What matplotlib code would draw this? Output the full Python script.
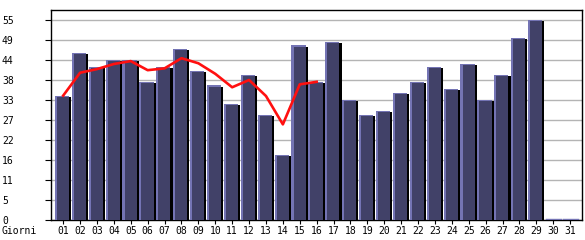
import matplotlib
matplotlib.use("Agg")
import matplotlib.pyplot as plt
import numpy as np

# daily visits, one bar per day
days = ["01", "02", "03", "04", "05", "06", "07", "08", "09", "10",
        "11", "12", "13", "14", "15", "16", "17", "18", "19", "20",
        "21", "22", "23", "24", "25", "26", "27", "28", "29", "30", "31"]
visits = [34, 46, 42, 44, 44, 38, 42, 47, 41, 37,
          32, 40, 29, 18, 48, 38, 49, 33, 29, 30,
          35, 38, 42, 36, 43, 33, 40, 50, 55, 0, 0]
# red trend line (only the first 16 days)
trend = [34.2, 40.5, 41.5, 42.9, 43.7, 41.2, 41.7, 44.5, 43.1, 40.2,
         36.5, 38.5, 34.1, 26.3, 37.3, 38.0]

ymax = max(visits)
yticks = [ymax * i / 10 for i in range(11)]
ytick_labels = [str(int(v)) for v in yticks]

fig = plt.figure(figsize=(5.85, 2.4), dpi=100)
ax = fig.add_axes([51 / 585, 20 / 240, 531 / 585, 210 / 240])

x = np.arange(1, len(days) + 1)
# shadow, light edge, face
shadow = [max(v - 0.3, 0) for v in visits]
ax.bar(x + 0.085, shadow, width=0.77, color="black", zorder=2)
ax.bar(x - 0.07, visits, width=0.84, color="#7474b4", zorder=3)
face = [max(v - 0.3, 0) for v in visits]
ax.bar(x - 0.01, face, width=0.72, color="#414168", zorder=4)
# empty days drawn as a thin line
for xi, v in zip(x, visits):
    if v == 0:
        ax.plot([xi - 0.45, xi + 0.45], [0.2, 0.2], color="#7474b4", lw=1, zorder=4)

ax.plot(x[:len(trend)], trend, color="#ff1010", lw=1.9, zorder=6)

ax.set_xlim(0.28, 31.7)
ax.set_ylim(0, ymax * 1.05)
ax.set_yticks(yticks)
ax.set_yticklabels(ytick_labels)
ax.set_xticks(x)
ax.set_xticklabels(days)
ax.grid(axis="y", color="#b4b4b4", lw=1, zorder=0)
ax.set_axisbelow(True)

for s in ax.spines.values():
    s.set_color("black")
    s.set_linewidth(1)

ax.tick_params(axis="y", length=4.3, width=0.8, pad=31, labelsize=7)
ax.tick_params(axis="x", length=3, width=0.8, pad=1.5, labelsize=7)
for lab in ax.get_yticklabels():
    lab.set_horizontalalignment("left")
    lab.set_family("DejaVu Sans Mono")
for lab in ax.get_xticklabels():
    lab.set_family("DejaVu Sans Mono")

fig.text(2 / 585, 1 - 231 / 240, "Giorni", family="DejaVu Sans Mono",
         fontsize=7, ha="left", va="center")

fig.savefig("out.png", dpi=100)
